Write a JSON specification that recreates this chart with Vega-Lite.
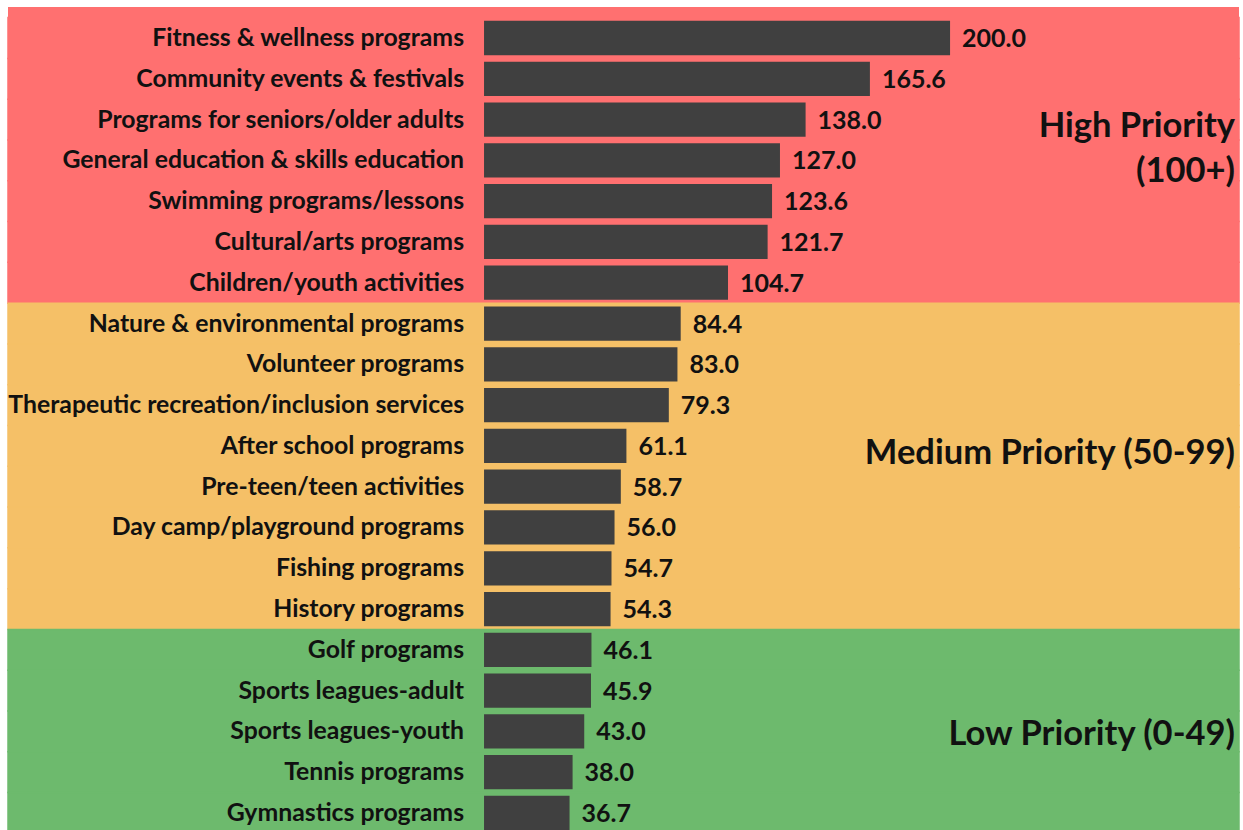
{
  "$schema": "https://vega.github.io/schema/vega-lite/v6.json",
  "autosize": {"type": "none"},
  "width": 1231,
  "height": 823,
  "padding": {"left": 8, "top": 7, "right": 4, "bottom": 0},
  "background": "white",
  "config": {"view": {"stroke": null, "fill": "#FF7070"}, "font": "Lato"},
  "data": {"values": [
    {"program": "Fitness & wellness programs", "score": 200.0, "priority": "High"},
    {"program": "Community events & festivals", "score": 165.6, "priority": "High"},
    {"program": "Programs for seniors/older adults", "score": 138.0, "priority": "High"},
    {"program": "General education & skills education", "score": 127.0, "priority": "High"},
    {"program": "Swimming programs/lessons", "score": 123.6, "priority": "High"},
    {"program": "Cultural/arts programs", "score": 121.7, "priority": "High"},
    {"program": "Children/youth activities", "score": 104.7, "priority": "High"},
    {"program": "Nature & environmental programs", "score": 84.4, "priority": "Medium"},
    {"program": "Volunteer programs", "score": 83.0, "priority": "Medium"},
    {"program": "Therapeutic recreation/inclusion services", "score": 79.3, "priority": "Medium"},
    {"program": "After school programs", "score": 61.1, "priority": "Medium"},
    {"program": "Pre-teen/teen activities", "score": 58.7, "priority": "Medium"},
    {"program": "Day camp/playground programs", "score": 56.0, "priority": "Medium"},
    {"program": "Fishing programs", "score": 54.7, "priority": "Medium"},
    {"program": "History programs", "score": 54.3, "priority": "Medium"},
    {"program": "Golf programs", "score": 46.1, "priority": "Low"},
    {"program": "Sports leagues-adult", "score": 45.9, "priority": "Low"},
    {"program": "Sports leagues-youth", "score": 43.0, "priority": "Low"},
    {"program": "Tennis programs", "score": 38.0, "priority": "Low"},
    {"program": "Gymnastics programs", "score": 36.7, "priority": "Low"}
  ]},
  "encoding": {
    "y": {"field": "program", "type": "nominal", "sort": null, "axis": null,
      "scale": {"range": [10.6, 826.4], "paddingInner": 0, "paddingOuter": 0}}
  },
  "layer": [
    {
      "mark": {"type": "rect", "strokeWidth": 1.5},
      "encoding": {
        "x": {"datum": -204.3, "type": "quantitative", "axis": null,
          "scale": {"domain": [-204.3, 324], "nice": false, "zero": false}},
        "x2": {"datum": 324},
        "color": {"field": "priority", "type": "nominal", "legend": null,
          "scale": {"domain": ["High", "Medium", "Low"], "range": ["#FF7070", "#F5C067", "#6DBA6D"]}},
        "stroke": {"field": "priority", "type": "nominal", "legend": null,
          "scale": {"domain": ["High", "Medium", "Low"], "range": ["#FF7070", "#F5C067", "#6DBA6D"]}}
      }
    },
    {
      "mark": {"type": "bar", "height": {"band": 0.84}, "color": "#404040"},
      "encoding": {
        "x": {"field": "score", "type": "quantitative"},
        "x2": {"datum": 0}
      }
    },
    {
      "mark": {"type": "text", "align": "left", "baseline": "middle", "dx": 12, "dy": 1, "fontSize": 25, "fontWeight": "bold", "color": "#111111"},
      "encoding": {
        "x": {"field": "score", "type": "quantitative"},
        "text": {"field": "score", "type": "quantitative", "format": ".1f"}
      }
    },
    {
      "mark": {"type": "text", "align": "right", "baseline": "middle", "dx": -20, "dy": 1, "fontSize": 24.8, "fontWeight": "bold", "color": "#111111"},
      "encoding": {
        "x": {"datum": 0, "type": "quantitative"},
        "text": {"field": "program", "type": "nominal"}
      }
    },
    {
      "data": {"values": [{"label": "High Priority\n(100+)"}]},
      "mark": {"type": "text", "align": "right", "baseline": "middle", "lineBreak": "\n", "lineHeight": 45, "dx": -4, "dy": -33, "fontSize": 34.5, "fontWeight": "bold", "color": "#111111"},
      "encoding": {
        "x": {"datum": 324, "type": "quantitative"},
        "y": {"datum": "General education & skills education"},
        "text": {"field": "label"}
      }
    },
    {
      "data": {"values": [{"label": "Medium Priority (50-99)"}]},
      "mark": {"type": "text", "align": "right", "baseline": "middle", "dx": -4, "dy": 8, "fontSize": 34.5, "fontWeight": "bold", "color": "#111111"},
      "encoding": {
        "x": {"datum": 324, "type": "quantitative"},
        "y": {"datum": "After school programs"},
        "text": {"field": "label"}
      }
    },
    {
      "data": {"values": [{"label": "Low Priority (0-49)"}]},
      "mark": {"type": "text", "align": "right", "baseline": "middle", "dx": -4, "dy": 4, "fontSize": 34.5, "fontWeight": "bold", "color": "#111111"},
      "encoding": {
        "x": {"datum": 324, "type": "quantitative"},
        "y": {"datum": "Sports leagues-youth"},
        "text": {"field": "label"}
      }
    }
  ]
}
